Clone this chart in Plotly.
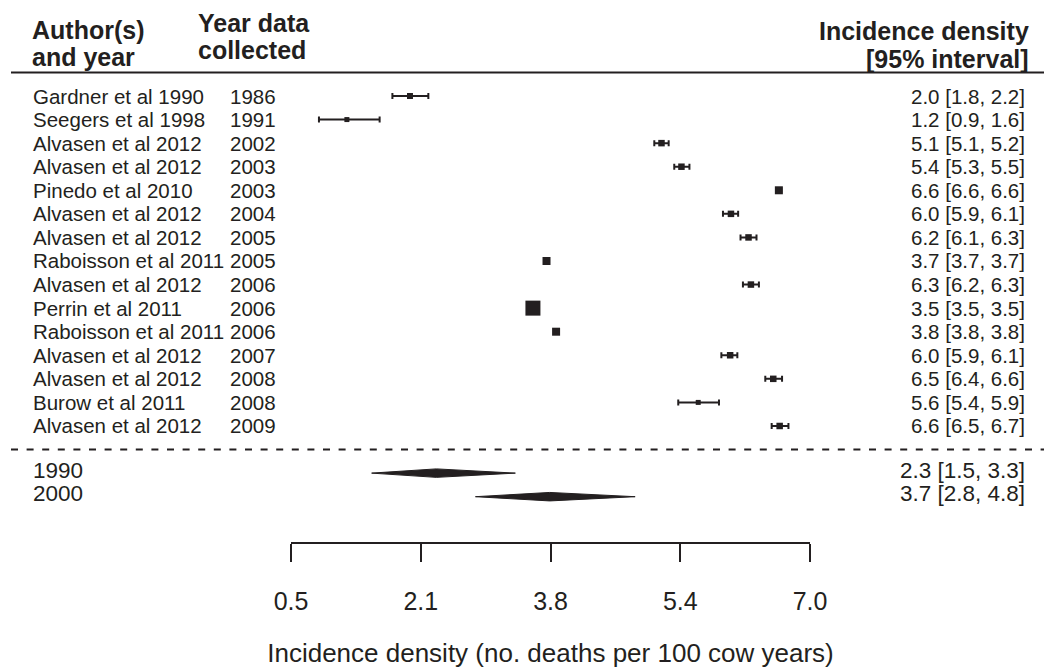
import plotly.graph_objects as go
import numpy as np

# ---------------- data ----------------
authors = ["Gardner et al 1990", "Seegers et al 1998", "Alvasen et al 2012", "Alvasen et al 2012",
           "Pinedo et al 2010", "Alvasen et al 2012", "Alvasen et al 2012", "Raboisson et al 2011",
           "Alvasen et al 2012", "Perrin et al 2011", "Raboisson et al 2011", "Alvasen et al 2012",
           "Alvasen et al 2012", "Burow et al 2011", "Alvasen et al 2012"]
years = ["1986", "1991", "2002", "2003", "2003", "2004", "2005", "2005",
         "2006", "2006", "2006", "2007", "2008", "2008", "2009"]
estimate = [1.99, 1.20, 5.14, 5.39, 6.61, 6.01, 6.23, 3.70, 6.26, 3.53, 3.82, 6.00, 6.54, 5.60, 6.62]
lower    = [1.77, 0.85, 5.05, 5.30, 6.58, 5.91, 6.13, 3.68, 6.16, 3.50, 3.80, 5.89, 6.44, 5.35, 6.52]
upper    = [2.22, 1.61, 5.23, 5.49, 6.64, 6.10, 6.33, 3.72, 6.36, 3.56, 3.84, 6.09, 6.65, 5.86, 6.73]
weight_px = [6, 5, 6.5, 6.5, 8, 6.5, 6.5, 8, 6.5, 15, 8, 6.5, 6.5, 5, 6.5]
ci_labels = ["2.0 [1.8, 2.2]", "1.2 [0.9, 1.6]", "5.1 [5.1, 5.2]", "5.4 [5.3, 5.5]", "6.6 [6.6, 6.6]",
             "6.0 [5.9, 6.1]", "6.2 [6.1, 6.3]", "3.7 [3.7, 3.7]", "6.3 [6.2, 6.3]", "3.5 [3.5, 3.5]",
             "3.8 [3.8, 3.8]", "6.0 [5.9, 6.1]", "6.5 [6.4, 6.6]", "5.6 [5.4, 5.9]", "6.6 [6.5, 6.7]"]

summary_names = ["1990", "2000"]
summary_est = [2.32, 3.74]
summary_lo = [1.51, 2.81]
summary_hi = [3.31, 4.81]
summary_labels = ["2.3 [1.5, 3.3]", "3.7 [2.8, 4.8]"]

tick_vals = list(np.linspace(0.5, 7.0, 5))
tick_text = ["0.5", "2.1", "3.8", "5.4", "7.0"]
x_title = "Incidence density (no. deaths per 100 cow years)"

# ---------------- layout constants ----------------
INK = "#231f20"
FONT = "Liberation Sans, Arial, Helvetica, sans-serif"
W, H = 1044, 671
rows = list(range(1, len(authors) + 1))
summary_rows = [len(authors) + 2, len(authors) + 3]
dash_row = len(authors) + 1
header_row = 0

fig = go.Figure()

# study estimates with CI
fig.add_trace(go.Scatter(
    x=estimate, y=rows, mode="markers",
    marker=dict(symbol="square", size=weight_px, color=INK, opacity=1, line=dict(width=0)),
    error_x=dict(type="data", symmetric=False,
                 array=[u - e for u, e in zip(upper, estimate)],
                 arrayminus=[e - l for e, l in zip(estimate, lower)],
                 color=INK, thickness=2, width=3),
    cliponaxis=False, showlegend=False, hoverinfo="skip"))

# summary diamonds
half_h = 0.18
for r, e, lo, hi in zip(summary_rows, summary_est, summary_lo, summary_hi):
    fig.add_trace(go.Scatter(
        x=[lo, e, hi, e, lo], y=[r, r - half_h, r, r + half_h, r],
        mode="lines", fill="toself", fillcolor=INK, line=dict(color=INK, width=1),
        cliponaxis=False, showlegend=False, hoverinfo="skip"))

annotations = []
def txt(x, y, text, size, anchor, yshift=0):
    annotations.append(dict(x=x, y=y, xref="paper", yref="y", text=text,
                            showarrow=False, xanchor=anchor, yanchor="middle", yshift=yshift,
                            font=dict(family=FONT, size=size, color=INK)))

AUTH_X = 31 / W
YEAR_X = 228 / W
RIGHT_X = 1027 / W
for r, a, yv, c in zip(rows, authors, years, ci_labels):
    txt(AUTH_X, r, a, 20.5, "left")
    txt(YEAR_X, r, yv, 20.5, "left")
    txt(RIGHT_X, r, c, 20.5, "right")

for r, n, c in zip(summary_rows, summary_names, summary_labels):
    txt(AUTH_X, r, n, 22.5, "left", yshift=3)
    txt(RIGHT_X, r, c, 22.5, "right", yshift=3)

# headers (paper coordinates)
def ptxt(xpx, ypx, text, anchor):
    annotations.append(dict(x=xpx / W, y=1 - ypx / H, xref="paper", yref="paper", text=f"<b>{text}</b>",
                            showarrow=False, xanchor=anchor, yanchor="middle", borderpad=0,
                            font=dict(family=FONT, size=25, color=INK)))
ptxt(31, 30, "Author(s)", "left")
ptxt(31, 57, "and year", "left")
ptxt(197, 23, "Year data", "left")
ptxt(197, 50, "collected", "left")
ptxt(1030, 31, "Incidence density", "right")
ptxt(1030, 59, "[95% interval]", "right")

shapes = [
    dict(type="line", xref="paper", yref="y", x0=11 / W, x1=1, y0=header_row, y1=header_row,
         line=dict(color=INK, width=2)),
    dict(type="line", xref="paper", yref="y", x0=11 / W, x1=1, y0=dash_row, y1=dash_row,
         line=dict(color=INK, width=2, dash="7px,8.6px")),
]

y_top = 1 - 96 / 23.57
y_bot = 1 + (542 - 96) / 23.57

fig.update_layout(
    width=W, height=H, margin=dict(l=0, r=0, t=0, b=0),
    paper_bgcolor="white", plot_bgcolor="white",
    font=dict(family=FONT, color=INK),
    annotations=annotations, shapes=shapes,
    xaxis=dict(domain=[291 / W, 810 / W], range=[0.5, 7.0], tickvals=tick_vals, ticktext=tick_text,
               showline=True, linecolor=INK, linewidth=1.6, ticks="outside", ticklen=18, tickwidth=1.6,
               tickcolor=INK, tickfont=dict(size=25, family=FONT, color=INK), ticklabelstandoff=18,
               showgrid=False, zeroline=False, automargin=False,
               title=dict(text=x_title, font=dict(size=26, family=FONT, color=INK), standoff=30)),
    yaxis=dict(domain=[(H - 542) / H, 1], range=[y_bot, y_top], visible=False, showgrid=False,
               zeroline=False, automargin=False),
)

fig.write_html("out.html")
